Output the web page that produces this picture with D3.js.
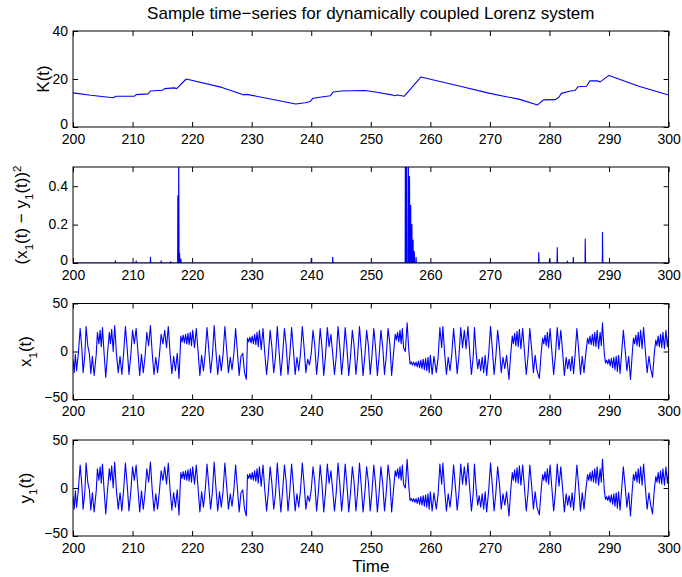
<!DOCTYPE html>
<html><head><meta charset="utf-8">
<script src="https://cdn.jsdelivr.net/npm/d3@7"></script>
<style>
body{margin:0;background:#fff}
text{font-family:"Liberation Sans",Arial,Helvetica,sans-serif;fill:#000}
</style>
</head><body>
<svg id="chart" width="682" height="577"></svg>
<script>
// ---------- data ----------
const timeTicks = [200,210,220,230,240,250,260,270,280,290,300];
const kTicks = [0,20,40];
const dTicks = [0,0.2,0.4];
const xTicks = [-50,0,50];

// K(t): [time, value]
const kSeries = [[200,14.2],[203,13.2],[206,12.4],[206.8,12.2],[207.2,12.8],[210.3,12.8],[210.6,13.5],[212.6,13.8],[213,15],[215,15.3],[215.4,16],[217,16.3],[217.4,16],[219.0,20],[225,16.5],[228.6,13.4],[229.2,13.6],[237.4,9.6],[239,10.1],[239.8,10.6],[240.3,12],[243.2,13],[243.7,14.6],[245,15],[249,15.2],[251,14.5],[253.5,13.4],[254,13],[254.5,13.3],[255.6,12.8],[258.4,20.8],[265,17],[270,14],[275,11.5],[278,9.2],[278.6,10.5],[279,11.3],[281,11.4],[281.6,12.5],[282,14],[283.5,15],[284.3,15.2],[284.8,16.8],[286.2,17],[286.8,19.2],[288,19.3],[288.5,18.8],[290,21.5],[295,17],[300,13.3]];

// (x1 - y1)^2 spikes: [time, peak]
const dSpikes = [[207.1,0.012],[210.6,0.012],[213,0.03],[214.8,0.012],[216.4,0.008],[217.6,0.35],[217.75,0.6],[217.9,0.05],[218.1,0.02],[240,0.025],[243.6,0.03],[255.8,0.6],[256.0,0.6],[256.3,0.6],[256.5,0.45],[256.7,0.3],[256.9,0.2],[257.1,0.12],[257.3,0.06],[257.6,0.03],[278.2,0.055],[280,0.02],[281.3,0.08],[283,0.01],[284,0.03],[286,0.125],[288.9,0.16]];

// x1(t): [time, value] turning points
const x1Series = [[200,-8],[200.2,-22],[200.4,-3],[200.6,-20],[200.9,-2],[201.2,24],[201.5,2],[201.7,-22],[202,-3],[202.2,26],[202.5,5],[202.75,-2],[203,-23],[203.25,-5],[203.55,-25],[203.9,-3],[204.1,20],[204.35,8],[204.55,22],[204.75,5],[204.95,25],[205.2,0],[205.5,-27],[205.8,-2],[206.1,20],[206.3,8],[206.5,23],[206.75,0],[207,27],[207.3,-3],[207.6,-22],[207.9,-5],[208.2,-24],[208.5,-2],[208.8,26],[209.1,3],[209.4,-24],[209.7,-4],[210,22],[210.3,8],[210.6,24],[210.9,0],[211.2,-25],[211.5,-3],[211.8,-22],[212.1,-5],[212.4,20],[212.7,6],[213,27],[213.3,-2],[213.6,-24],[213.9,-6],[214.2,-22],[214.5,-4],[214.8,18],[215.1,8],[215.4,22],[215.7,4],[216,26],[216.3,-2],[216.6,-23],[216.9,-5],[217.2,-20],[217.5,-2],[217.8,-28],[218.1,16],[218.3,10],[218.5,17],[218.7,9],[218.9,18],[219.1,8],[219.3,19],[219.5,7],[219.7,20],[219.9,6],[220.1,22],[220.4,4],[220.7,24],[221,0],[221.3,-25],[221.6,-4],[221.9,-20],[222.2,-2],[222.5,25],[222.8,2],[223.1,-22],[223.4,-5],[223.7,27],[224,0],[224.3,-24],[224.6,-4],[224.9,-20],[225.2,-3],[225.5,26],[225.8,2],[226.1,-22],[226.4,-6],[226.7,-19],[227,-3],[227.3,24],[227.6,0],[227.9,-25],[228.2,-5],[228.5,-2],[228.8,-22],[229.1,-29],[229.3,14],[229.5,10],[229.7,15],[229.9,9],[230.1,16],[230.3,8],[230.5,18],[230.7,7],[230.9,20],[231.1,5],[231.3,22],[231.6,2],[231.9,24],[232.2,-2],[232.5,-24],[232.8,-4],[233.1,22],[233.4,4],[233.7,-22],[234,-6],[234.3,26],[234.6,0],[234.9,-25],[235.2,-3],[235.5,24],[235.8,6],[236.1,-24],[236.4,-4],[236.7,25],[237,2],[237.3,-24],[237.6,-6],[237.9,-20],[238.2,-2],[238.5,26],[238.8,4],[239.1,-22],[239.4,-8],[239.7,-14],[240,-2],[240.3,22],[240.6,6],[240.9,-24],[241.2,-4],[241.5,24],[241.8,4],[242.1,-25],[242.4,-4],[242.7,25],[243,5],[243.3,18],[243.6,-2],[243.9,-24],[244.2,-5],[244.5,26],[244.8,4],[245.1,-24],[245.4,-4],[245.7,25],[246,3],[246.3,-25],[246.6,-5],[246.9,22],[247.2,6],[247.5,-24],[247.8,-4],[248.1,26],[248.4,2],[248.7,-25],[249,-5],[249.3,22],[249.6,6],[249.9,-24],[250.2,-4],[250.5,24],[250.8,4],[251.1,-25],[251.4,-5],[251.7,22],[252,5],[252.3,-24],[252.6,-4],[252.9,24],[253.2,8],[253.5,-25],[253.8,-3],[254.1,18],[254.3,12],[254.5,20],[254.7,10],[254.9,22],[255.1,8],[255.3,24],[255.5,4],[255.8,0],[256.1,30],[256.4,0],[256.6,-13],[256.8,-11],[257,-14],[257.2,-11],[257.4,-15],[257.6,-11],[257.8,-16],[258,-10],[258.2,-17],[258.4,-9],[258.6,-18],[258.8,-8],[259,-19],[259.2,-7],[259.4,-20],[259.6,-6],[259.8,-22],[260,-4],[260.3,-24],[260.6,-5],[261.0,-22],[261.3,-6],[261.6,25],[261.9,4],[262.1,26],[262.4,-2],[262.7,-24],[263.0,-6],[263.3,-20],[263.6,-3],[263.9,24],[264.2,2],[264.5,-23],[264.8,-5],[265.1,25],[265.4,4],[265.7,22],[266.0,3],[266.3,26],[266.6,0],[266.9,-24],[267.2,-5],[267.4,25],[267.7,-2],[267.95,-18],[268.2,-8],[268.45,-20],[268.7,-6],[268.95,-22],[269.2,-4],[269.45,-25],[269.8,-2],[270.1,26],[270.4,3],[270.7,-24],[271.0,-5],[271.3,22],[271.6,4],[271.9,-22],[272.2,-6],[272.5,-18],[272.8,-4],[273.2,-29],[273.5,-2],[273.75,16],[273.95,8],[274.15,19],[274.35,6],[274.55,21],[274.75,5],[274.95,23],[275.2,3],[275.5,24],[275.8,0],[276.1,-24],[276.4,-5],[276.7,24],[277.0,3],[277.3,-22],[277.6,-4],[277.9,-20],[278.3,-28],[278.6,-2],[278.85,14],[279.05,8],[279.25,17],[279.45,6],[279.65,20],[279.85,4],[280.1,24],[280.4,0],[280.7,-24],[281.0,-4],[281.3,25],[281.6,2],[281.9,22],[282.2,0],[282.5,-25],[282.8,-6],[283.05,-18],[283.3,-8],[283.55,-20],[283.8,-5],[284.05,-23],[284.3,-3],[284.6,24],[284.9,2],[285.2,-24],[285.5,-5],[285.8,-22],[286.1,-2],[286.4,14],[286.6,8],[286.8,16],[287.0,7],[287.2,18],[287.4,6],[287.6,20],[287.8,5],[288.0,22],[288.25,3],[288.5,20],[288.7,6],[288.9,30],[289.2,-2],[289.4,-12],[289.6,-9],[289.8,-13],[290,-8],[290.2,-15],[290.4,-7],[290.6,-17],[290.8,-6],[291,-19],[291.2,-5],[291.4,-21],[291.6,-4],[291.85,-23],[292.1,-3],[292.4,22],[292.7,2],[293.0,-20],[293.3,-5],[293.6,-29],[293.9,-2],[294.1,14],[294.3,8],[294.5,17],[294.7,6],[294.9,20],[295.1,5],[295.3,22],[295.55,3],[295.8,25],[296.1,0],[296.4,-22],[296.7,-5],[297.0,-18],[297.3,-27],[297.6,-2],[297.85,12],[298.05,6],[298.25,16],[298.45,5],[298.65,18],[298.85,4],[299.05,20],[299.3,3],[299.55,22],[299.8,5],[300,18]];
// y1(t) tracks x1(t) almost exactly at this scale
const y1Series = x1Series;

// ---------- layout ----------
const svg = d3.select("#chart");
const L = 73, R = 668.6;
const panels = [
  {top:31, bottom:127, domain:[0,40], ticks:kTicks, fmt:d3.format("d")},
  {top:167, bottom:263, domain:[0,0.5], ticks:dTicks, fmt:d=>d===0?"0":d3.format(".1f")(d)},
  {top:303.5, bottom:399.5, domain:[-50,50], ticks:xTicks, fmt:d=>d<0?"\u2212"+Math.abs(d):String(d)},
  {top:440, bottom:536, domain:[-50,50], ticks:xTicks, fmt:d=>d<0?"\u2212"+Math.abs(d):String(d)}
];
const x = d3.scaleLinear().domain([200,300]).range([L,R]);

svg.append("text").attr("x",(L+R)/2).attr("y",19).attr("text-anchor","middle")
  .style("font-size","17px").text("Sample time\u2212series for dynamically coupled Lorenz system");

const defs = svg.append("defs");

panels.forEach((p,i)=>{
  const y = d3.scaleLinear().domain(p.domain).range([p.bottom,p.top]);
  p.y = y;
  const g = svg.append("g");
  defs.append("clipPath").attr("id","clip"+i).append("rect")
    .attr("x",L).attr("y",p.top).attr("width",R-L).attr("height",p.bottom-p.top);

  const ax = (axis, tx, ty, labels) => {
    const a = g.append("g").attr("transform",`translate(${tx},${ty})`).call(axis);
    a.select(".domain").remove();
    a.selectAll(".tick line").attr("stroke","#000");
    a.selectAll("text").style("font-size","14px").attr("fill","#000");
    if(!labels) a.selectAll("text").remove();
    return a;
  };
  ax(d3.axisBottom(x).tickValues(timeTicks).tickSize(-5).tickPadding(7).tickFormat(d3.format("d")),0,p.bottom,true);
  ax(d3.axisTop(x).tickValues(timeTicks).tickSize(-5),0,p.top,false);
  const la = ax(d3.axisLeft(y).tickValues(p.ticks).tickSize(-5).tickPadding(5).tickFormat(p.fmt),L,0,true);
  // the lowest label sits a touch higher so it clears the time labels below
  la.selectAll("text").attr("dy",d=>d===p.domain[0]?"0.12em":"0.3em");
  ax(d3.axisRight(y).tickValues(p.ticks).tickSize(-5),R,0,false);
});

const line = y => d3.line().x(d=>x(d[0])).y(d=>y(d[1]));
function drawSeries(i, data){
  svg.append("path").datum(data).attr("clip-path",`url(#clip${i})`)
    .attr("fill","none").attr("stroke","#0000ff").attr("stroke-width",1.1)
    .attr("stroke-linejoin","round").attr("d",line(panels[i].y)(data));
}
drawSeries(0,kSeries);
// difference spikes: baseline then each spike rises and falls
const dPts = [[200,0]];
dSpikes.forEach(([t,h])=>{ dPts.push([t-0.03,0],[t,h],[t+0.06,0]); });
dPts.push([300,0]);
drawSeries(1,dPts);
drawSeries(2,x1Series);
drawSeries(3,y1Series);

// boxes
panels.forEach(p=>{
  svg.append("rect").attr("x",L).attr("y",p.top).attr("width",R-L).attr("height",p.bottom-p.top)
    .attr("fill","none").attr("stroke","#000").attr("stroke-width",1);
});

// axis labels
function ylab(cx, cy, parts){
  const t = svg.append("text").attr("transform",`translate(${cx},${cy}) rotate(-90)`)
    .attr("text-anchor","middle").attr("dy","0.35em").style("font-size","17px");
  parts.forEach(([s,shift])=>{
    const ts = t.append("tspan").text(s);
    if(shift){ ts.attr("baseline-shift",shift).style("font-size","11.5px"); }
  });
}
ylab(43,(31+127)/2,[["K(t)"]]);
ylab(21,(167+263)/2,[["(x"],["1","sub"],["(t) \u2212 y"],["1","sub"],["(t))"],["2","super"]]);
ylab(25,(303.5+399.5)/2,[["x"],["1","sub"],["(t)"]]);
ylab(25,(440+536)/2,[["y"],["1","sub"],["(t)"]]);
svg.append("text").attr("x",(L+R)/2).attr("y",572).attr("text-anchor","middle")
  .style("font-size","17px").text("Time");
</script>
</body></html>
